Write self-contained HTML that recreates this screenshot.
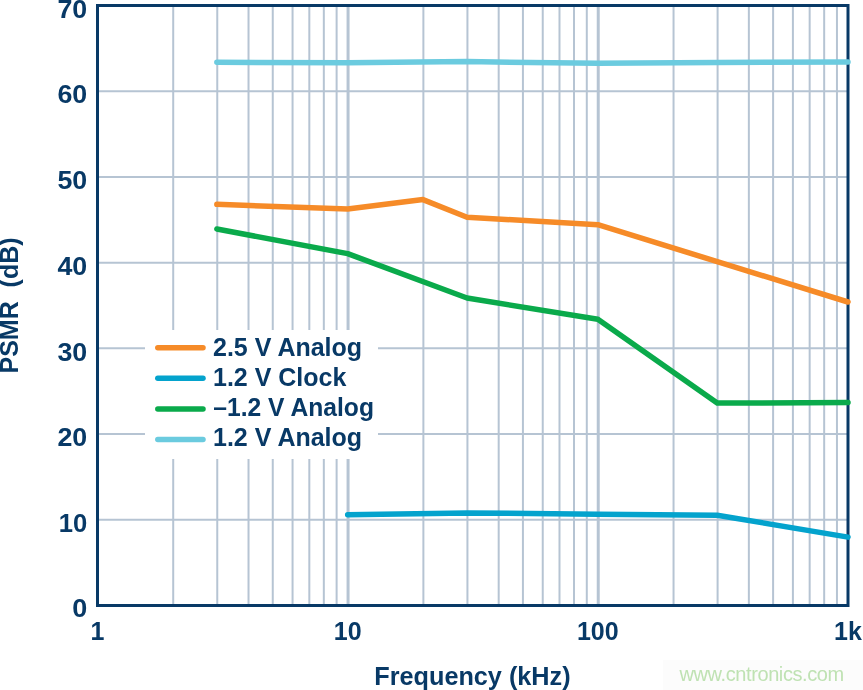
<!DOCTYPE html>
<html><head><meta charset="utf-8"><style>
html,body{margin:0;padding:0;background:#fff;width:863px;height:690px;overflow:hidden}
svg{display:block;will-change:transform}
text{font-family:"Liberation Sans",Arial,Helvetica,sans-serif;font-weight:bold;fill:#083966}
</style></head><body>
<svg width="863" height="690" viewBox="0 0 863 690">
<g stroke="#b6c4d3"><line x1="97.5" y1="519.79" x2="848" y2="519.79" stroke-width="2"/><line x1="97.5" y1="434.07" x2="848" y2="434.07" stroke-width="2"/><line x1="97.5" y1="348.36" x2="848" y2="348.36" stroke-width="2"/><line x1="97.5" y1="262.64" x2="848" y2="262.64" stroke-width="2"/><line x1="97.5" y1="176.93" x2="848" y2="176.93" stroke-width="2"/><line x1="97.5" y1="91.21" x2="848" y2="91.21" stroke-width="2"/><line x1="173.21" y1="5.5" x2="173.21" y2="605.5" stroke-width="2"/><line x1="217.26" y1="5.5" x2="217.26" y2="605.5" stroke-width="2"/><line x1="248.52" y1="5.5" x2="248.52" y2="605.5" stroke-width="2"/><line x1="272.76" y1="5.5" x2="272.76" y2="605.5" stroke-width="2"/><line x1="292.57" y1="5.5" x2="292.57" y2="605.5" stroke-width="2"/><line x1="309.32" y1="5.5" x2="309.32" y2="605.5" stroke-width="2"/><line x1="323.83" y1="5.5" x2="323.83" y2="605.5" stroke-width="2"/><line x1="336.62" y1="5.5" x2="336.62" y2="605.5" stroke-width="2"/><line x1="423.38" y1="5.5" x2="423.38" y2="605.5" stroke-width="2"/><line x1="467.43" y1="5.5" x2="467.43" y2="605.5" stroke-width="2"/><line x1="498.69" y1="5.5" x2="498.69" y2="605.5" stroke-width="2"/><line x1="522.93" y1="5.5" x2="522.93" y2="605.5" stroke-width="2"/><line x1="542.74" y1="5.5" x2="542.74" y2="605.5" stroke-width="2"/><line x1="559.49" y1="5.5" x2="559.49" y2="605.5" stroke-width="2"/><line x1="574.00" y1="5.5" x2="574.00" y2="605.5" stroke-width="2"/><line x1="586.79" y1="5.5" x2="586.79" y2="605.5" stroke-width="2"/><line x1="673.55" y1="5.5" x2="673.55" y2="605.5" stroke-width="2"/><line x1="717.60" y1="5.5" x2="717.60" y2="605.5" stroke-width="2"/><line x1="748.86" y1="5.5" x2="748.86" y2="605.5" stroke-width="2"/><line x1="773.10" y1="5.5" x2="773.10" y2="605.5" stroke-width="2"/><line x1="792.91" y1="5.5" x2="792.91" y2="605.5" stroke-width="2"/><line x1="809.66" y1="5.5" x2="809.66" y2="605.5" stroke-width="2"/><line x1="824.17" y1="5.5" x2="824.17" y2="605.5" stroke-width="2"/><line x1="836.96" y1="5.5" x2="836.96" y2="605.5" stroke-width="2"/><line x1="348.07" y1="5.5" x2="348.07" y2="605.5" stroke-width="3"/><line x1="598.24" y1="5.5" x2="598.24" y2="605.5" stroke-width="3"/></g>
<rect x="97.5" y="5.5" width="750.5" height="600" fill="none" stroke="#083966" stroke-width="3"/>
<rect x="145" y="330" width="233" height="129" fill="#fff"/>
<g transform="scale(0.5)">
<text x="174.40" y="1233.80" text-anchor="end" font-size="50" textLength="30" lengthAdjust="spacingAndGlyphs">0</text>
<text x="174.40" y="1063.97" text-anchor="end" font-size="50" textLength="57.0" lengthAdjust="spacingAndGlyphs">10</text>
<text x="174.40" y="892.54" text-anchor="end" font-size="50" textLength="59.6" lengthAdjust="spacingAndGlyphs">20</text>
<text x="174.40" y="721.11" text-anchor="end" font-size="50" textLength="59.6" lengthAdjust="spacingAndGlyphs">30</text>
<text x="174.40" y="549.69" text-anchor="end" font-size="50" textLength="59.6" lengthAdjust="spacingAndGlyphs">40</text>
<text x="174.40" y="378.26" text-anchor="end" font-size="50" textLength="59.6" lengthAdjust="spacingAndGlyphs">50</text>
<text x="174.40" y="206.83" text-anchor="end" font-size="50" textLength="59.6" lengthAdjust="spacingAndGlyphs">60</text>
<text x="174.40" y="35.40" text-anchor="end" font-size="50" textLength="59.6" lengthAdjust="spacingAndGlyphs">70</text>
<text x="195.00" y="1280.00" text-anchor="middle" font-size="50">1</text>
<text x="695.34" y="1280.00" text-anchor="middle" font-size="50">10</text>
<text x="1195.68" y="1280.00" text-anchor="middle" font-size="50">100</text>
<text x="1696.02" y="1280.00" text-anchor="middle" font-size="50">1k</text>
<text x="944.90" y="1370.20" text-anchor="middle" font-size="50" textLength="392.6" lengthAdjust="spacingAndGlyphs">Frequency (kHz)</text>
<text transform="translate(35.4,611) rotate(-90)" text-anchor="middle" font-size="50" xml:space="preserve">PSMR  (dB)</text>
</g>
<polyline points="216.86,62.30 347.67,62.75 467.03,61.60 597.84,63.35 717.20,62.50 848.01,61.90" fill="none" stroke="#6bcbdf" stroke-width="5.5" stroke-linecap="round" stroke-linejoin="round"/>
<polyline points="347.67,514.80 467.03,512.90 597.84,514.20 717.20,515.20 848.01,537.10" fill="none" stroke="#04a3cd" stroke-width="5.5" stroke-linecap="round" stroke-linejoin="round"/>
<polyline points="216.86,229.00 347.67,253.60 467.03,298.00 597.84,319.30 717.20,403.10 848.01,402.50" fill="none" stroke="#0aaa4b" stroke-width="5.5" stroke-linecap="round" stroke-linejoin="round"/>
<polyline points="216.86,204.30 347.67,209.00 422.98,199.60 467.03,217.30 597.84,224.70 848.01,302.00" fill="none" stroke="#f68b28" stroke-width="5.5" stroke-linecap="round" stroke-linejoin="round"/>
<line x1="157.8" y1="347.80" x2="203" y2="347.80" stroke="#f68b28" stroke-width="5.5" stroke-linecap="round"/>
<g transform="scale(0.5)"><text x="426.00" y="712.60" font-size="50">2.5 V Analog</text></g>
<line x1="157.8" y1="378.35" x2="203" y2="378.35" stroke="#04a3cd" stroke-width="5.5" stroke-linecap="round"/>
<g transform="scale(0.5)"><text x="426.00" y="772.50" font-size="50">1.2 V Clock</text></g>
<line x1="157.8" y1="408.90" x2="203" y2="408.90" stroke="#0aaa4b" stroke-width="5.5" stroke-linecap="round"/>
<g transform="scale(0.5)"><text x="426.70" y="832.40" font-size="50" textLength="321.2" lengthAdjust="spacingAndGlyphs">–1.2 V Analog</text></g>
<line x1="157.8" y1="439.45" x2="203" y2="439.45" stroke="#6bcbdf" stroke-width="5.5" stroke-linecap="round"/>
<g transform="scale(0.5)"><text x="426.00" y="892.30" font-size="50">1.2 V Analog</text></g>
<rect x="663" y="660" width="200" height="30" fill="#fcfcfc"/>
<g transform="scale(0.5)"><text x="1359.00" y="1361.40" font-size="40" style="font-weight:normal;fill:#bfe2b3" letter-spacing="-0.8">www.cntronics.com</text></g>
</svg></body></html>
